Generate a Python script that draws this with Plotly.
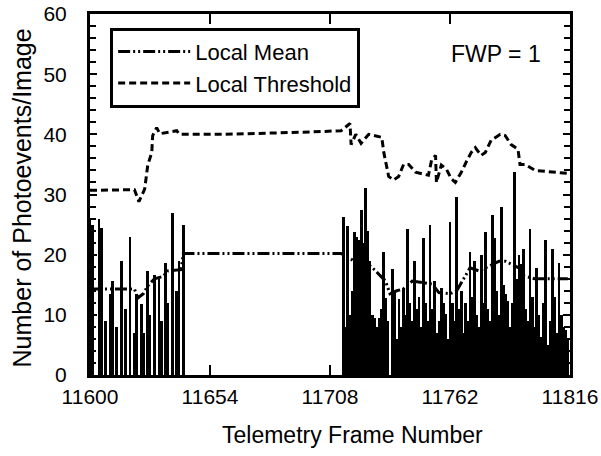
import plotly.graph_objects as go

# Photoevent counts per telemetry frame (spikes)
frames = [
    11600, 11601, 11604, 11605, 11607, 11609, 11610, 11612, 11614, 11616,
    11618, 11620, 11621, 11623, 11624, 11626, 11627, 11629, 11631, 11632,
    11634, 11635, 11637, 11639, 11640, 11642,
    11714, 11715, 11716, 11717, 11718, 11719, 11720, 11721, 11722, 11723,
    11724, 11725, 11726, 11727, 11728, 11729, 11730, 11731, 11732, 11733,
    11734, 11736, 11737, 11738, 11739, 11740, 11741, 11742, 11743, 11744,
    11745, 11746, 11747, 11748, 11749, 11750, 11751, 11752, 11753, 11754,
    11755, 11756, 11757, 11758, 11759, 11760, 11761, 11762, 11763, 11764,
    11765, 11766, 11767, 11768, 11769, 11770, 11771, 11772, 11773, 11774,
    11775, 11776, 11777, 11778, 11779, 11780, 11781, 11782, 11783, 11784,
    11785, 11786, 11787, 11788, 11789, 11790, 11791, 11792, 11793, 11794,
    11795, 11796, 11797, 11798, 11799, 11800, 11801, 11802, 11803, 11804,
    11805, 11806, 11807, 11808, 11809, 11810, 11811, 11812, 11813, 11814,
    11815,
]
counts = [
    26, 25, 26, 24.5, 9, 13.5, 15.6, 8, 19, 11,
    23, 7, 13.5, 11.8, 7, 17.3, 10, 16.7, 16, 9,
    18.6, 12, 27, 14, 19, 25,
    26.3, 8, 24.7, 10, 14, 23.8, 23, 22.5, 27.5, 22,
    31, 24, 19, 10, 9.5, 8, 9.5, 11, 20.5, 12.8,
    9, 17.6, 14, 6, 12.7, 8, 14.5, 10, 24.3, 12,
    9, 18.9, 11, 13, 8, 22.7, 12, 9, 25, 11,
    15.6, 7, 9, 14.5, 12, 10.2, 6, 25.5, 12, 9,
    29.6, 11, 14, 7, 12, 9, 20.5, 13, 18.9, 10,
    8, 20, 12, 23.8, 11, 9, 26.6, 22.7, 14, 10,
    28, 15, 13.5, 12.3, 8, 12, 33.7, 16, 20, 18.4,
    21, 11, 9, 24.3, 13, 8, 17.8, 10, 6.3, 12,
    22.5, 5, 9, 20.9, 13, 7, 18.6, 10, 8, 7.4,
    6,
]

# Local mean of the photoevent counts
mean_frames = [
    11600, 11620, 11621.5, 11624, 11626, 11629, 11633, 11635, 11641, 11642,
    11713, 11716, 11720, 11725, 11728, 11733, 11735, 11738, 11741, 11745,
    11750, 11754, 11757, 11762, 11765, 11771, 11775, 11779, 11784, 11787,
    11790, 11793, 11795, 11800, 11815,
]
mean_values = [
    14.3, 14.3, 12.8, 13.5, 14.8, 16.0, 16.4, 17.3, 17.5, 20.2,
    20.2, 19.5, 18.7, 18.5, 17.5, 15.6, 13.5, 14.0, 14.3, 15.6,
    15.3, 15.1, 13.7, 13.5, 14.0, 17.8, 17.3, 18.0, 18.9, 18.9,
    18.4, 17.8, 16.5, 16.0, 16.0,
]

# Local detection threshold
thr_frames = [
    11600, 11620, 11622, 11624.6, 11626, 11627.8, 11628.2, 11630, 11631.4, 11639,
    11640.3, 11660, 11700, 11713, 11717, 11717.5, 11719.6, 11722, 11725.4, 11731.3,
    11732.2, 11733.5, 11734.4, 11736.6, 11738.9, 11741.1, 11743.4, 11746.5, 11752.3, 11753.7,
    11755.5, 11755.9, 11758.1, 11760.4, 11762.6, 11764.4, 11767.1, 11769.3, 11771.6, 11773.4,
    11776, 11777.9, 11780.5, 11784.6, 11786.8, 11789.5, 11792.6, 11793.5, 11795.8, 11800.3,
    11807.4, 11815,
]
thr_values = [
    30.7, 30.8, 28.8, 30.9, 34.9, 37.0, 39.8, 41.1, 40.1, 40.6,
    40.0, 40.0, 40.4, 40.6, 41.8, 38.3, 40.0, 38.5, 40.0, 39.5,
    37.0, 34.5, 33.0, 32.4, 33.0, 35.0, 35.0, 33.7, 33.2, 35.7,
    36.5, 32.0, 34.9, 34.2, 32.6, 32.0, 33.7, 35.4, 37.0, 37.8,
    36.5, 37.0, 39.0, 40.0, 39.8, 38.3, 37.5, 35.0, 35.0, 34.0,
    33.7, 33.5,
]

x_ticks = [11600, 11654, 11708, 11762, 11816]
y_ticks = [0, 10, 20, 30, 40, 50, 60]

FONT = "Liberation Sans, Arial, Helvetica, sans-serif"

fig = go.Figure()

fig.add_trace(go.Bar(
    x=frames, y=counts, width=1.25,
    marker=dict(color="black", line=dict(width=0)),
    showlegend=False, hoverinfo="skip",
))
fig.add_trace(go.Scatter(
    x=mean_frames, y=mean_values, mode="lines", name="Local Mean",
    line=dict(color="black", width=3, dash="12px,3px,2px,3px,2px,3px"),
))
fig.add_trace(go.Scatter(
    x=thr_frames, y=thr_values, mode="lines", name="Local Threshold",
    line=dict(color="black", width=3, dash="7px,4px"),
))

axis_common = dict(
    showline=True, linecolor="black", linewidth=3, mirror="ticks",
    ticks="inside", tickcolor="black", tickwidth=2,
    showgrid=False, zeroline=False, automargin=False,
    ticklabeloverflow="allow",
)

fig.update_xaxes(
    range=[11600, 11816], tickvals=x_ticks, ticktext=[str(v) for v in x_ticks],
    ticklen=10, ticklabelstandoff=1,
    tickfont=dict(family=FONT, size=21, color="black"),
    **axis_common,
)
fig.update_yaxes(
    range=[0, 60], tickvals=y_ticks, ticklen=7, ticklabelstandoff=16,
    tickfont=dict(family=FONT, size=21, color="black"),
    minor=dict(dtick=2, ticks="inside", ticklen=6, tickwidth=2, tickcolor="black"),
    **axis_common,
)

fig.update_layout(
    width=601, height=456,
    margin=dict(l=90, r=31, t=14, b=81),
    paper_bgcolor="white", plot_bgcolor="white",
    bargap=0,
    font=dict(family=FONT, color="black"),
    legend=dict(
        x=0.042, y=0.962, xanchor="left", yanchor="top",
        bgcolor="white", bordercolor="black", borderwidth=3,
        font=dict(family=FONT, size=22, color="black"),
        itemwidth=72, tracegroupgap=0,
    ),
    annotations=[
        dict(text="FWP = 1", xref="paper", yref="paper", x=0.846, y=0.89,
             xanchor="center", yanchor="middle", showarrow=False,
             font=dict(family=FONT, size=23, color="black")),
        dict(text="Telemetry Frame Number", xref="paper", yref="paper",
             x=0.546, y=-0.167, xanchor="center", yanchor="middle", showarrow=False,
             font=dict(family=FONT, size=23, color="black")),
        dict(text="Number of Photoevents/Image", xref="paper", yref="paper",
             x=-0.141, y=0.49, xanchor="center", yanchor="middle", textangle=-90,
             showarrow=False, font=dict(family=FONT, size=25, color="black")),
    ],
)

fig.write_html("out.html")
